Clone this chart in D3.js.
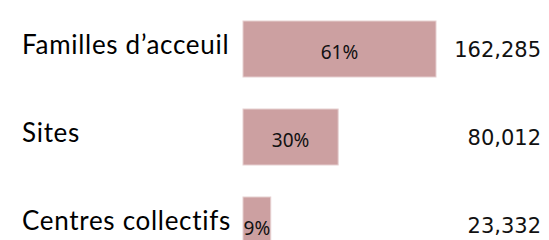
<!DOCTYPE html>
<html>
<head>
<meta charset="utf-8">
<script src="https://cdn.jsdelivr.net/npm/d3@7"></script>
<style>
    body { margin: 0; background: #fff; }
    svg { display: block; }
</style>
</head>
<body>
<svg id="chart" width="549" height="240"></svg>
<script>

var categories = ["Familles d\u2019acceuil", "Sites", "Centres collectifs"],
    counts     = [162285, 80012, 23332],
    percents   = ["61%", "30%", "9%"],
    count_labels = ["162,285", "80,012", "23,332"]
;

var svg = d3.select("#chart"),
    bar_left = 243,
    bar_colour = "#cca0a1",
    rows = categories.map( (c,n) => ({ category: c, count: counts[n], pct: percents[n], label: count_labels[n] }) ),
    xScale = d3.scaleLinear().domain([0, d3.max(counts)]).range([0, 193]),
    yScale = d3.scaleBand()
        .domain(categories)
        .range([5, 269])
        .paddingInner(32/88)
        .paddingOuter(16/88)
;

var g = svg.append("g");

// bars
g.selectAll(".bar")
    .data(rows)
    .enter().append("rect")
    .attr("class", "bar")
    .attr("x", bar_left)
    .attr("y", d => yScale(d.category))
    .attr("width", d => xScale(d.count))
    .attr("height", yScale.bandwidth())
    .style("fill", bar_colour)
    .style("stroke", "#e6cfd0")
    .style("stroke-width", 1)
;

// category names on the left
g.selectAll(".cat")
    .data(rows)
    .enter().append("text")
    .attr("class", "cat")
    .attr("x", 22)
    .attr("y", d => yScale(d.category) + yScale.bandwidth()/2 + 5)
    .style("font-family", "Lato, sans-serif")
    .style("font-size", "26px")
    .style("letter-spacing", "0.7px")
    .style("fill", "#000")
    .text(d => d.category)
;

// percentages inside the bars
g.selectAll(".pct")
    .data(rows)
    .enter().append("text")
    .attr("class", "pct")
    .attr("x", d => bar_left + xScale(d.count)/2)
    .attr("y", d => yScale(d.category) + yScale.bandwidth()/2 + 10)
    .attr("text-anchor", "middle")
    .style("font-family", "'Noto Sans', sans-serif")
    .style("font-size", "19px")
    .style("fill", "#111")
    .text(d => d.pct)
;

// counts on the right
g.selectAll(".count")
    .data(rows)
    .enter().append("text")
    .attr("class", "count")
    .attr("x", 541)
    .attr("y", d => yScale(d.category) + yScale.bandwidth()/2 + 8)
    .attr("text-anchor", "end")
    .style("font-family", "'DejaVu Sans', sans-serif")
    .style("font-size", "21px")
    .style("fill", "#111")
    .text(d => d.label)
;

</script>
</body>
</html>
